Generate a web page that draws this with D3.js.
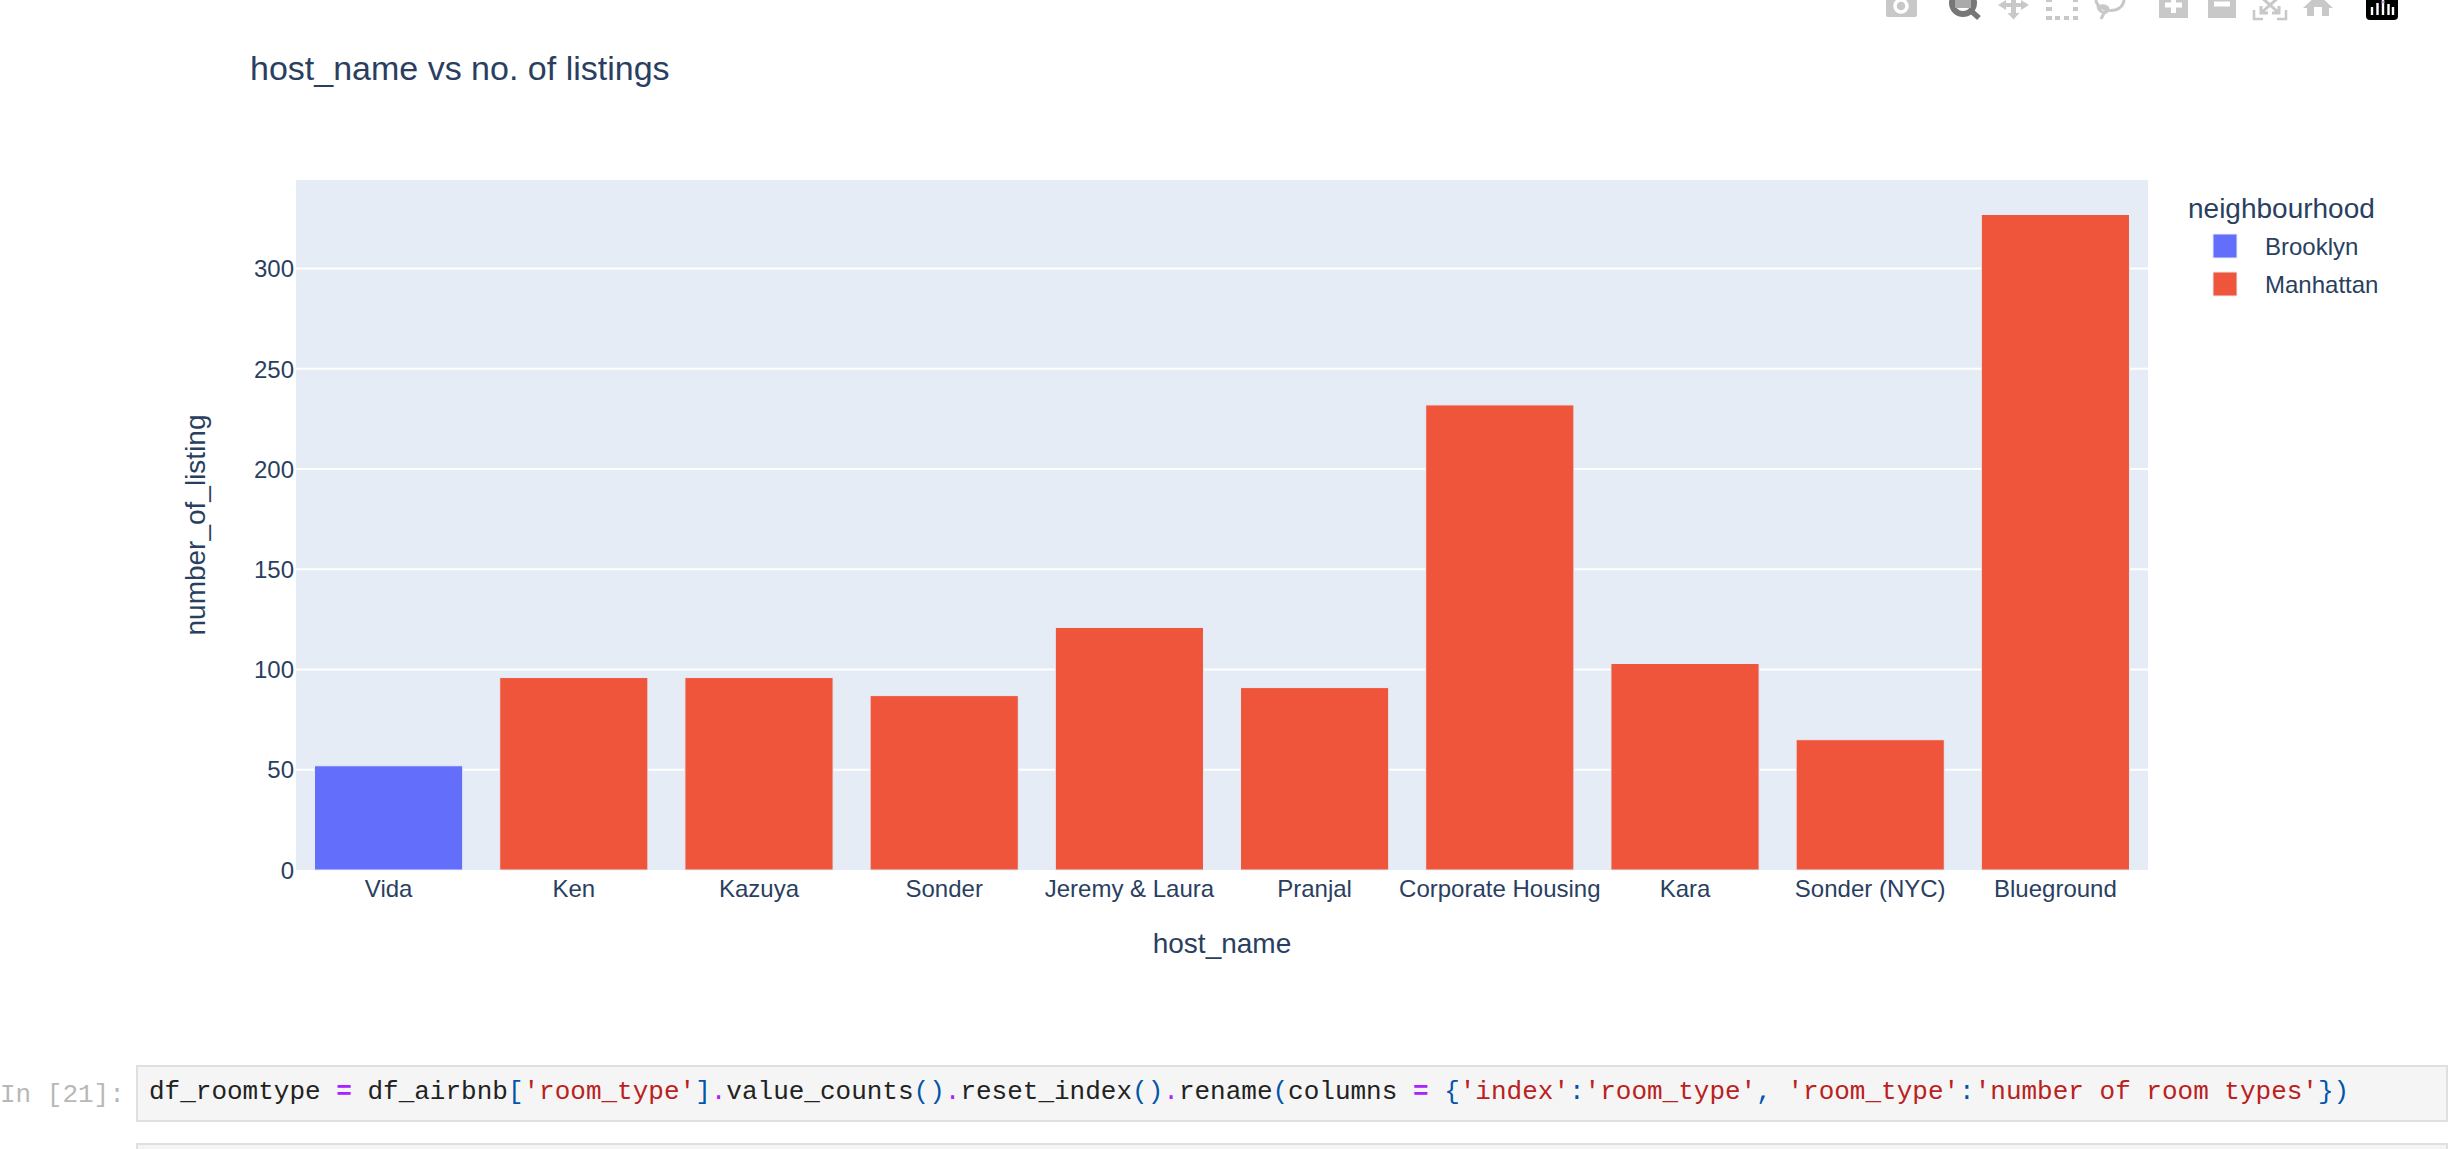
<!DOCTYPE html>
<html>
<head>
    <title>host_name vs no. of listings</title>
    <meta charset="utf-8" />
    <script src="https://d3js.org/d3.v7.min.js"></script>
    <style>
        html, body { margin: 0; padding: 0; background: #fff; overflow: hidden; }
        svg { display: block; }
        text { font-family: "Liberation Sans", Arial, sans-serif; fill: #2a3f5f; }
        .code text, text.code { font-family: "Liberation Mono", monospace; font-size: 26px; }
        .axis path.domain { display: none; }
        .axis line { display: none; }
        .axis text { font-size: 24px; font-family: "Liberation Sans", Arial, sans-serif; }
        .grid line { stroke: #fff; stroke-width: 2px; }
    </style>
</head>
<body>
<svg id="chart" width="2456" height="1149"></svg>
<script>
    var hosts = ["Vida", "Ken", "Kazuya", "Sonder", "Jeremy & Laura", "Pranjal", "Corporate Housing", "Kara", "Sonder (NYC)", "Blueground"];
    var listings = [52, 96, 96, 87, 121, 91, 232, 103, 65, 327];
    var neighbourhoods = ["Brooklyn", "Manhattan", "Manhattan", "Manhattan", "Manhattan", "Manhattan", "Manhattan", "Manhattan", "Manhattan", "Manhattan"];
    var legendNames = ["Brooklyn", "Manhattan"];
    var legendColors = ["#636efa", "#ef553b"];
    var yTicks = [0, 50, 100, 150, 200, 250, 300];
    var yMax = 344.2;

    // one line of the notebook cell below the chart: [text, colour, bold]
    var codeParts = [
        ["df_roomtype ", "#222", false], ["=", "#aa22ff", true], [" df_airbnb", "#222", false],
        ["[", "#0055aa", false], ["'room_type'", "#ba2121", false], ["]", "#0055aa", false],
        [".", "#aa22ff", false], ["value_counts", "#222", false], ["()", "#0055aa", false],
        [".", "#aa22ff", false], ["reset_index", "#222", false], ["()", "#0055aa", false],
        [".", "#aa22ff", false], ["rename", "#222", false], ["(", "#0055aa", false],
        ["columns ", "#222", false], ["=", "#aa22ff", true], [" ", "#222", false],
        ["{", "#0055aa", false], ["'index'", "#ba2121", false], [":", "#0055aa", false],
        ["'room_type'", "#ba2121", false], [", ", "#0055aa", false], ["'room_type'", "#ba2121", false],
        [":", "#0055aa", false], ["'number of room types'", "#ba2121", false], ["})", "#0055aa", false]
    ];

    var svg = d3.select("#chart");

    var left = 296, right = 2148, top_ = 180, bottom = 870;

    var x = d3.scaleBand().domain(hosts).range([left, right]).paddingInner(0.2).paddingOuter(0.1);
    var y = d3.scaleLinear().domain([0, yMax]).range([bottom, top_]);
    var color = d3.scaleOrdinal().domain(legendNames).range(legendColors);

    svg.append("rect")
        .attr("x", left).attr("y", top_)
        .attr("width", right - left).attr("height", bottom - top_)
        .attr("fill", "#e5ecf6");

    svg.append("g").attr("class", "grid")
        .selectAll("line")
        .data(yTicks.slice(1))
        .enter()
        .append("line")
        .attr("x1", left).attr("x2", right)
        .attr("y1", function(d) { return y(d); })
        .attr("y2", function(d) { return y(d); });

    svg.append("g")
        .selectAll("rect")
        .data(hosts)
        .enter()
        .append("rect")
        .attr("x", function(d) { return x(d); })
        .attr("width", x.bandwidth())
        .attr("y", function(d, i) { return y(listings[i]); })
        .attr("height", function(d, i) { return y(0) - y(listings[i]); })
        .attr("fill", function(d, i) { return color(neighbourhoods[i]); })
        .attr("stroke", "#e5ecf6")
        .attr("stroke-width", 1);

    var yAxis = d3.axisLeft(y).tickValues(yTicks).tickSize(0).tickPadding(2);
    svg.append("g").attr("class", "axis")
        .attr("transform", "translate(" + left + ",0)")
        .call(yAxis)
        .selectAll("text").attr("dy", "0.34em");

    var xAxis = d3.axisBottom(x).tickSize(0).tickPadding(0);
    svg.append("g").attr("class", "axis")
        .attr("transform", "translate(0," + bottom + ")")
        .call(xAxis)
        .selectAll("text").attr("y", 0).attr("dy", 27);

    svg.append("text").attr("x", 250).attr("y", 80)
        .style("font-size", "34px").text("host_name vs no. of listings");

    svg.append("text").attr("x", (left + right) / 2).attr("y", 953)
        .attr("text-anchor", "middle").style("font-size", "28px").text("host_name");

    svg.append("text")
        .attr("transform", "translate(205," + (top_ + bottom) / 2 + ") rotate(-90)")
        .attr("text-anchor", "middle").style("font-size", "28px").text("number_of_listing");

    // legend
    svg.append("text").attr("x", 2188).attr("y", 218)
        .style("font-size", "28px").text("neighbourhood");

    var legend = svg.append("g").selectAll("g")
        .data(legendNames)
        .enter()
        .append("g")
        .attr("transform", function(d, i) { return "translate(0," + (i * 38) + ")"; });

    legend.append("rect")
        .attr("x", 2213).attr("y", 234)
        .attr("width", 24).attr("height", 24)
        .attr("fill", function(d) { return color(d); })
        .attr("stroke", "#e5ecf6").attr("stroke-width", 1);

    legend.append("text")
        .attr("x", 2265).attr("y", 255)
        .style("font-size", "24px")
        .text(function(d) { return d; });

    // plotly mode bar, cut off by the top of the window
    var bar = svg.append("g");
    var gray = "#c8c8c8";

    function icon(d, fill, stroke, width) {
        bar.append("path").attr("d", d)
            .attr("fill", fill || "none")
            .attr("stroke", stroke || "none")
            .attr("stroke-width", width || 0);
    }

    // camera
    icon("M1886 -6H1917V15Q1917 17 1915 17H1888Q1886 17 1886 15Z", gray);
    bar.append("circle").attr("cx", 1901).attr("cy", 6).attr("r", 6).attr("fill", "none").attr("stroke", "#fff").attr("stroke-width", 3.5);
    // zoom, the active one
    bar.append("circle").attr("cx", 1963).attr("cy", 3).attr("r", 11).attr("fill", "none").attr("stroke", "#777").attr("stroke-width", 6);
    icon("M1955 -6H1971V8H1955Z", "#aaa");
    icon("M1970 10L1979 18", null, "#777", 5.5);
    // pan
    icon("M1998 5L2006 0V3H2011V-6H2016V3H2021V0L2029 5L2021 10V7H2016V13H2019.5L2013.5 19.5L2007.5 13H2011V7H2006V10Z", gray);
    // box select, square dots
    icon("M2046 -3h6v5h-6zM2046 7h6v4h-6zM2046 16h6v4h-6zM2055 16h5v4h-5zM2064 16h5v4h-5zM2073 16h5v4h-5zM2073 7h5v4h-5zM2073 -3h5v5h-5z", gray);
    // lasso
    icon("M2096 -2C2095 6 2105 12 2115 10C2123 8 2125 2 2124 -6M2098 5C2098 12 2106 15 2108 10C2109 6 2101 4 2099 8M2104 13L2101 19", null, gray, 3);
    // zoom in, zoom out
    icon("M2159 -6H2188V18H2159Z", gray);
    icon("M2165 5H2182M2173.5 -4V13", null, "#fff", 5);
    icon("M2208 -6H2236V18H2208Z", gray);
    icon("M2214 4H2230", null, "#fff", 5);
    // autoscale
    icon("M2254 10V19H2263M2277 19H2286V10", null, gray, 2.5);
    icon("M2261 -3L2279 13M2279 -3L2261 13M2261 6V13H2268M2279 6V13H2272", null, gray, 3);
    // home
    icon("M2303 8L2318 -6L2333 8H2329V16H2322V7H2314V16H2307V8Z", gray);
    // plotly logo
    bar.append("rect").attr("x", 2366).attr("y", -12).attr("width", 32).attr("height", 32).attr("rx", 4).attr("fill", "#000");
    icon("M2372 7V15M2377.5 3V15M2383 0V15M2388.5 4V15M2393 7V15", null, "#fff", 2.4);
    bar.append("circle").attr("cx", 2383).attr("cy", 2).attr("r", 1.5).attr("fill", "#c9a0dc");

    // notebook cells
    svg.append("rect").attr("x", 137).attr("y", 1066)
        .attr("width", 2310).attr("height", 55)
        .attr("fill", "#f5f5f5").attr("stroke", "#e0e0e0").attr("stroke-width", 2);

    svg.append("rect").attr("x", 137).attr("y", 1144)
        .attr("width", 2310).attr("height", 20)
        .attr("fill", "#f5f5f5").attr("stroke", "#e0e0e0").attr("stroke-width", 2);

    svg.append("text").attr("class", "code").attr("x", 0).attr("y", 1102)
        .style("fill", "#b8b8b8").text("In [21]:");

    svg.append("text").attr("class", "code").attr("x", 149).attr("y", 1099)
        .attr("xml:space", "preserve").style("white-space", "pre")
        .selectAll("tspan")
        .data(codeParts)
        .enter()
        .append("tspan")
        .style("fill", function(d) { return d[1]; })
        .style("font-weight", function(d) { return d[2] ? "bold" : "normal"; })
        .text(function(d) { return d[0]; });
</script>
</body>
</html>
